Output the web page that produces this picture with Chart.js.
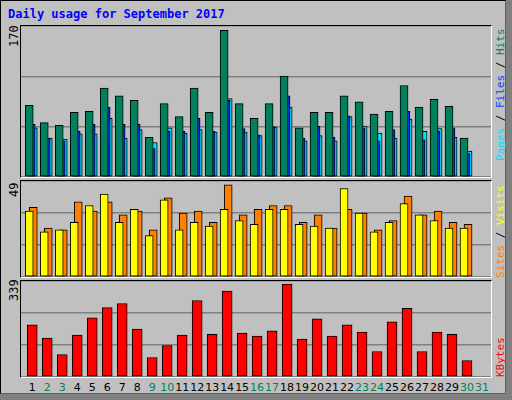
<!DOCTYPE html>
<html><head><meta charset="utf-8">
<script src="https://cdn.jsdelivr.net/npm/chart.js@4"></script>
<style>
body{margin:0;background:#808080;width:512px;height:400px;overflow:hidden;font-family:"DejaVu Sans Mono",monospace}
#frame{position:absolute;left:0;top:0;width:504px;height:392px;background:#c0c0c0;border:1px solid #000;border-right-color:#606060;border-bottom-color:#606060}
.panel{position:absolute;border:1px solid #000;border-right-color:#fff;border-bottom-color:#fff}
.panel canvas{position:absolute;left:0;top:0}
.t{position:absolute;white-space:nowrap;font-size:11px}
.rot{transform-origin:0 0;transform:rotate(-90deg)}
</style></head><body>
<div id="frame"></div>
<div class="t" style="left:8px;top:7px;color:#0000ff;font-weight:bold;font-size:12px">Daily usage for September 2017</div>
<div class="panel" style="left:20px;top:25px;width:470px;height:151px"><canvas id="c1" width="470" height="151"></canvas></div>
<div class="panel" style="left:20px;top:180px;width:470px;height:96px"><canvas id="c2" width="470" height="96"></canvas></div>
<div class="panel" style="left:20px;top:280px;width:470px;height:96px"><canvas id="c3" width="470" height="96"></canvas></div>
<div class="t rot" style="left:7px;top:47px;font-size:12px">170</div>
<div class="t rot" style="left:7px;top:197px;font-size:12px">49</div>
<div class="t rot" style="left:7px;top:301px;font-size:12px">339</div>
<div class="t rot" style="left:494px;top:161px"><span style="color:#00e0ff">Pages</span> / <span style="color:#0040ff">Files</span> / <span style="color:#00805c">Hits</span></div>
<div class="t rot" style="left:494px;top:278px"><span style="color:#ff8000">Sites</span> / <span style="color:#ffff00">Visits</span></div>
<div class="t rot" style="left:494px;top:377px;color:#ff0000">KBytes</div>
<div id="labels"></div>
<script>
const days=[1,2,3,4,5,6,7,8,9,10,11,12,13,14,15,16,17,18,19,20,21,22,23,24,25,26,27,28,29,30,31];
const weekend=[2,3,9,10,16,17,23,24,30,31];
const hits=[83,63,60,75,76,103,94,89,46,85,70,103,75,170,85,68,85,117,57,75,75,94,87,73,76,106,81,90,82,45];
const files=[61,45,42,53,61,81,61,61,33,53,53,68,53,89,56,49,58,94,45,59,46,71,57,42,55,76,43,53,57,27];
const pages=[57,45,44,50,50,68,45,55,40,57,51,55,52,91,52,48,58,81,42,48,42,70,59,51,45,67,53,56,46,30];
const sites=[35,24,25,29,38,44,29,36,22,41,25,29,27,36,30,28,36,36,28,27,26,47,34,24,29,39,33,30,26,26];
const visits=[37,26,25,40,35,40,33,35,25,42,34,35,29,49,33,36,38,38,29,33,26,36,34,25,30,43,33,35,29,28];
const kbytes=[190,142,82,153,216,253,268,175,71,115,153,279,156,313,160,149,168,339,138,212,149,190,164,93,201,250,93,164,156,60];
const XMIN=0.25,XMAX=31.6;
function pts(arr,off){return arr.map((v,i)=>({x:days[i]+off,y:v}));}
function ds(arr,off,color,w){return {data:pts(arr,off),backgroundColor:color,borderColor:'#000',borderWidth:1,barThickness:w,borderSkipped:false};}
function mk(id,sets,ymax){
 return new Chart(document.getElementById(id),{type:'bar',data:{datasets:sets},
 options:{responsive:false,animation:false,events:[],plugins:{legend:{display:false},tooltip:{enabled:false}},
 layout:{padding:0},datasets:{bar:{grouped:false}},
 scales:{x:{type:'linear',offset:false,min:XMIN,max:XMAX,display:true,grid:{display:false,offset:false},border:{display:false},ticks:{display:false},afterFit(s){s.height=0}},
 y:{min:0,max:ymax,display:true,ticks:{display:false,stepSize:ymax/3},grid:{color:'#808080',drawTicks:false,lineWidth:1.5},border:{display:false},afterFit(s){s.width=0}}}}});
}
mk('c1',[ds(hits,-0.2,'#00805c',8),ds(files,-0.07,'#0040ff',8),ds(pages,0.07,'#00e0ff',8)],175);
mk('c2',[ds(sites,-0.2,'#ffff00',8),ds(visits,0.07,'#ff8000',8)],51);
const c3=mk('c3',[ds(kbytes,0,'#ff0000',10)],350);
const xs=c3.scales.x;const L=document.getElementById('labels');
days.forEach(d=>{const s=document.createElement('div');s.className='t';s.textContent=d;
 s.style.fontFamily='"DejaVu Sans",sans-serif';s.style.fontSize='11px';
 s.style.color=weekend.includes(d)?'#00805c':'#000';s.style.top='381px';
 s.style.left=(21+xs.getPixelForValue(d))+'px';s.style.transform='translateX(-50%)';L.appendChild(s);});
</script></body></html>
